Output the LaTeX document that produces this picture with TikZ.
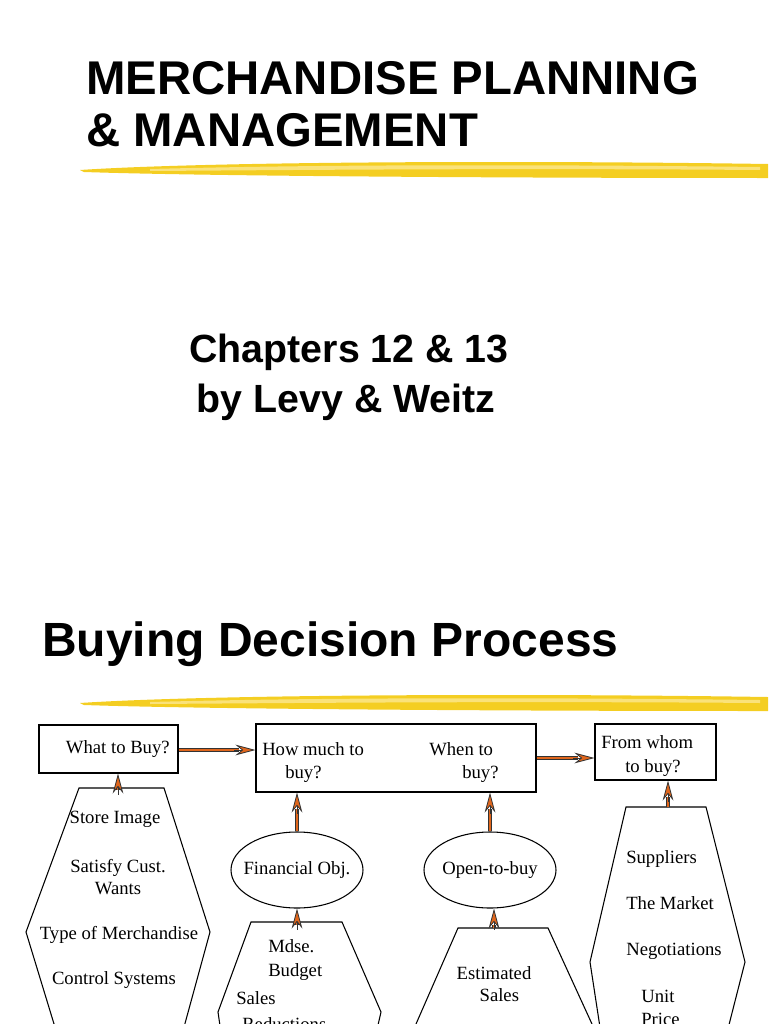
\documentclass[tikz,border=0pt]{standalone}
\usepackage{fontspec}
\setmainfont{Liberation Serif}
\newfontfamily\hd{Liberation Sans}
\usetikzlibrary{arrows.meta,shapes.geometric,calc}
\definecolor{arr}{HTML}{E0661C}
\definecolor{ylw}{HTML}{F4CE22}
\definecolor{ylwl}{HTML}{FAE27A}
\newcommand{\oarrow}[2]{%
 \draw[line width=3.6, black!80, shorten >=12] (#1) -- (#2);
 \draw[line width=1.8, arr, shorten >=12] (#1) -- (#2);
 \draw[line width=0.6, black!80, -{Stealth[length=15,width=8,fill=arr]}] ($(#2)!16pt!(#1)$) -- (#2);}
\tikzset{bx/.style={draw, line width=0.8, inner sep=0, font=\fontsize{14}{17}\selectfont},
 tx/.style={font=\fontsize{14}{17}\selectfont, inner sep=0},
 el/.style={draw, line width=0.8, ellipse, inner sep=0, minimum width=132*0.75pt, minimum height=76*0.75pt},
 sh/.style={draw, line width=0.8, fill=white}}
\begin{document}
\begin{tikzpicture}[x=0.75pt,y=-0.75pt]
\useasboundingbox (0,0) rectangle (768,1024);
\clip (0,0) rectangle (768,1024);
% titles
\node[anchor=base west, inner sep=0, font=\hd\bfseries\fontsize{35.5}{40}\selectfont] (t1) at (86,94) {MERCHANDISE PLANNING};
\node[anchor=base west, inner sep=0, font=\hd\bfseries\fontsize{35.5}{40}\selectfont] (t2) at (86,146) {\& MANAGEMENT};
\node[anchor=base, inner sep=0, font=\hd\bfseries\fontsize{29.5}{34}\selectfont] (c1) at (349,362) {Chapters 12 \& 13};
\node[anchor=base, inner sep=0, font=\hd\bfseries\fontsize{29.5}{34}\selectfont] (c2) at (346,412) {by Levy \& Weitz};
\node[anchor=base west, inner sep=0, font=\hd\bfseries\fontsize{36}{42}\selectfont] (bd) at (42,656) {Buying Decision Process};
% brush strokes
\foreach \y in {170,703}{
 \fill[ylw] (80,\y) .. controls (200,\y-8) and (500,\y-10) .. (768,\y-6) -- (768,\y+8) .. controls (500,\y+8) and (200,\y+6) .. (84,\y+2) -- cycle;
 \fill[ylwl] (150,\y-1) .. controls (300,\y-5) and (500,\y-6) .. (760,\y-3) -- (760,\y) .. controls (500,\y-2) and (300,\y) .. (150,\y+1) -- cycle;
}
% boxes
\node[bx, minimum width=139*0.75pt, minimum height=48*0.75pt] (b1) at (108.5,749) {\hspace*{14pt}What to Buy?};
\node[bx, minimum width=280*0.75pt, minimum height=68*0.75pt] (b2) at (396,758) {};
\node[tx, anchor=base west] at (262,755) {How much to};
\node[tx, anchor=base west] at (285,778) {buy?};
\node[tx, anchor=base west] at (429,755) {When to};
\node[tx, anchor=base west] at (462,778) {buy?};
\node[bx, minimum width=121*0.75pt, minimum height=56*0.75pt] (b3) at (655.5,752) {};
\node[tx, anchor=base west] at (601,748) {From whom};
\node[tx, anchor=base west] at (625,772) {to buy?};
\oarrow{b1.east |- 0,750}{b2.west |- 0,750}
\oarrow{b2.east |- 0,758}{b3.west |- 0,758}
% hexagon 1
\draw[sh] (79,788) -- (164,788) -- (210,932) -- (175,1060) -- (65,1060) -- (26,932) -- cycle;
\coordinate (h1) at (118,788);
\node[tx] at (115,819) {Store Image};
\node[tx, align=center] at (118,877) {Satisfy Cust.\\Wants};
\node[tx] at (119,935) {Type of Merchandise};
\node[tx] at (114,980) {Control Systems};
\oarrow{h1}{b1.south -| h1}
% ellipses
\node[el] (e1) at (297,870) {};
\node[tx] at (e1) {Financial Obj.};
\node[el] (e2) at (490,870) {};
\node[tx] at (e2) {Open-to-buy};
\oarrow{e1.north}{b2.south -| e1.north}
\oarrow{e2.north}{b2.south -| e2.north}
% hex 2
\draw[sh] (251,922) -- (342,922) -- (381,1012) -- (370,1060) -- (225,1060) -- (218,1012) -- cycle;
\coordinate (h2) at (297,922);
\node[tx, anchor=base west] at (268,952) {Mdse.};
\node[tx, anchor=base west] at (268,976) {Budget};
\node[tx, anchor=base west] at (236,1004) {Sales};
\node[tx, anchor=base west] at (242,1030) {Reductions};
\oarrow{h2}{e1.south}
% hex 3
\draw[sh] (458,928) -- (548,928) -- (592,1024) -- (580,1060) -- (425,1060) -- (416,1024) -- cycle;
\coordinate (h3) at (494,928);
\node[tx, align=center] at (494,984) {Estimated\\\hspace*{8pt}Sales};
\oarrow{h3}{e2.south -| h3}
% hex 4
\draw[sh] (626,807) -- (706,807) -- (745,962) -- (720,1060) -- (605,1060) -- (590,962) -- cycle;
\coordinate (h4) at (668,807);
\node[tx, anchor=base west] at (626,863) {Suppliers};
\node[tx, anchor=base west] at (626,909) {The Market};
\node[tx, anchor=base west] at (626,955) {Negotiations};
\node[tx, anchor=base west] at (641,1002) {Unit};
\node[tx, anchor=base west] at (641,1025) {Price};
\oarrow{h4}{b3.south -| h4}
\end{tikzpicture}
\end{document}
